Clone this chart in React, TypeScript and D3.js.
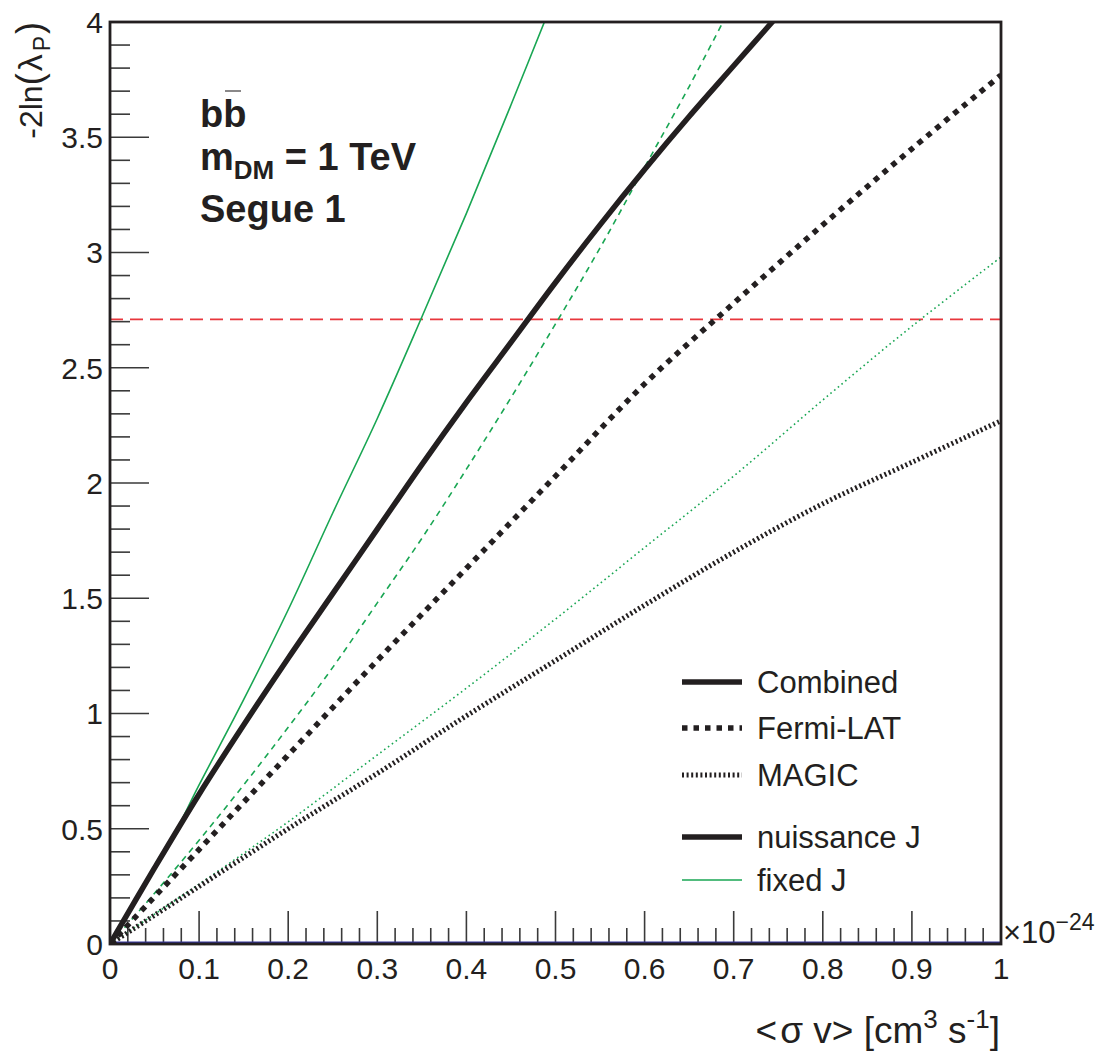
import React from "react";
import * as d3 from "d3";

const W = 1095;
const H = 1054;

// <σv> grid points (×1e-24 cm^3 s^-1)
const xCombNuis = [0, 0.05, 0.1, 0.15, 0.2, 0.25, 0.3, 0.35, 0.4, 0.45, 0.5, 0.55, 0.6, 0.65, 0.7, 0.75];
const yCombNuis = [0, 0.33, 0.65, 0.95, 1.24, 1.52, 1.8, 2.08, 2.35, 2.61, 2.87, 3.12, 3.36, 3.59, 3.81, 4.03];

const xCombFixed = [0, 0.05, 0.07, 0.1, 0.15, 0.2, 0.25, 0.3, 0.35, 0.4, 0.45, 0.5];
const yCombFixed = [0, 0.33, 0.46, 0.69, 1.06, 1.45, 1.87, 2.28, 2.72, 3.17, 3.64, 4.12];

const xFermiNuis = [0, 0.1, 0.2, 0.3, 0.4, 0.5, 0.6, 0.7, 0.8, 0.9, 1.0];
const yFermiNuis = [0, 0.41, 0.82, 1.23, 1.63, 2.03, 2.43, 2.78, 3.12, 3.45, 3.77];

const xFermiFixed = [0, 0.05, 0.1, 0.15, 0.2, 0.25, 0.3, 0.35, 0.4, 0.45, 0.5, 0.55, 0.6, 0.65, 0.7];
const yFermiFixed = [0, 0.22, 0.45, 0.69, 0.94, 1.2, 1.48, 1.76, 2.06, 2.37, 2.69, 3.02, 3.37, 3.72, 4.09];

const xMagicNuis = [0, 0.1, 0.2, 0.3, 0.4, 0.5, 0.6, 0.7, 0.8, 0.9, 1.0];
const yMagicNuis = [0, 0.25, 0.5, 0.74, 0.99, 1.23, 1.47, 1.7, 1.91, 2.09, 2.27];

const xMagicFixed = [0, 0.1, 0.2, 0.3, 0.4, 0.5, 0.6, 0.7, 0.8, 0.9, 1.0];
const yMagicFixed = [0, 0.26, 0.53, 0.82, 1.11, 1.41, 1.72, 2.03, 2.36, 2.68, 2.98];

const xBlue = [0, 1];
const yBlue = [0, 0];

const threshold = 2.71;

const xMajorTicks = [0, 0.1, 0.2, 0.3, 0.4, 0.5, 0.6, 0.7, 0.8, 0.9, 1];
const xTickLabels = ["0", "0.1", "0.2", "0.3", "0.4", "0.5", "0.6", "0.7", "0.8", "0.9", "1"];
const yMajorTicks = [0, 0.5, 1, 1.5, 2, 2.5, 3, 3.5, 4];
const yTickLabels = ["0", "0.5", "1", "1.5", "2", "2.5", "3", "3.5", "4"];

const legendLabels = ["Combined", "Fermi-LAT", "MAGIC", "nuissance J", "fixed J"];

const GREEN = "#19a653";
const BLACK = "#231f20";

const FONT = "'Liberation Sans', Arial, Helvetica, sans-serif";

export default function App() {
  const left = 110, right = 1001, top = 22, bottom = 944;
  const x = d3.scaleLinear().domain([0, 1]).range([left, right]);
  const y = d3.scaleLinear().domain([0, 4]).range([bottom, top]);

  const line = d3
    .line<[number, number]>()
    .x((d) => x(d[0]))
    .y((d) => y(d[1]))
    .curve(d3.curveCatmullRom.alpha(0.5));

  const zip = (xs: number[], ys: number[]) => xs.map((v, i) => [v, ys[i]] as [number, number]);

  const xMinor = d3.range(0, 1.0001, 0.02).filter((v) => Math.abs(Math.round(v * 10) - v * 10) > 1e-6);
  const yMinor = d3.range(0, 4.0001, 0.1).filter((v) => Math.abs(Math.round(v * 2) - v * 2) > 1e-6);

  const series = [
    { d: zip(xMagicFixed, yMagicFixed), stroke: GREEN, w: 1.6, dash: "1.6 3.2" },
    { d: zip(xFermiFixed, yFermiFixed), stroke: GREEN, w: 1.6, dash: "6 5" },
    { d: zip(xCombFixed, yCombFixed), stroke: GREEN, w: 1.6, dash: null },
    { d: zip(xMagicNuis, yMagicNuis), stroke: BLACK, w: 5, dash: "2 2.6" },
    { d: zip(xFermiNuis, yFermiNuis), stroke: BLACK, w: 5.5, dash: "5.5 6" },
    { d: zip(xCombNuis, yCombNuis), stroke: BLACK, w: 5.5, dash: null },
  ];

  const legendRows = [
    { label: legendLabels[0], yy: 682, stroke: BLACK, w: 5.5, dash: null },
    { label: legendLabels[1], yy: 728, stroke: BLACK, w: 5.5, dash: "5.5 6" },
    { label: legendLabels[2], yy: 775, stroke: BLACK, w: 5, dash: "2 2.6" },
    { label: legendLabels[3], yy: 837, stroke: BLACK, w: 5.5, dash: null },
    { label: legendLabels[4], yy: 880, stroke: GREEN, w: 1.6, dash: null },
  ];

  return (
    <svg
      width={W}
      height={H}
      style={{ position: "absolute", left: 0, top: 0, background: "#fff" }}
      fontFamily={FONT}
    >
      <defs>
        <clipPath id="plotclip">
          <rect x={left} y={top} width={right - left} height={bottom - top} />
        </clipPath>
      </defs>

      {/* ticks */}
      <g stroke="#3a3a3a" strokeWidth={1.6}>
        {yMajorTicks.map((t) => (
          <line key={"ym" + t} x1={left} x2={left + 39} y1={y(t)} y2={y(t)} />
        ))}
        {yMinor.map((t) => (
          <line key={"yn" + t} x1={left} x2={left + 20} y1={y(t)} y2={y(t)} />
        ))}
        {xMajorTicks.map((t) => (
          <line key={"xm" + t} x1={x(t)} x2={x(t)} y1={bottom} y2={bottom - 33} />
        ))}
        {xMinor.map((t) => (
          <line key={"xn" + t} x1={x(t)} x2={x(t)} y1={bottom} y2={bottom - 16} />
        ))}
      </g>

      {/* data */}
      <g clipPath="url(#plotclip)" fill="none">
        <path
          d={line(zip(xBlue, yBlue)) || ""}
          transform="translate(0,-1.8)"
          stroke="#34349a"
          strokeWidth={1.5}
        />
        <line
          x1={x(0)}
          x2={x(1)}
          y1={y(threshold)}
          y2={y(threshold)}
          stroke="#e8363c"
          strokeWidth={1.8}
          strokeDasharray="13 7"
        />
        {series.map((s, i) => (
          <path
            key={i}
            d={line(s.d) || ""}
            stroke={s.stroke}
            strokeWidth={s.w}
            strokeDasharray={s.dash || undefined}
          />
        ))}
      </g>

      {/* frame */}
      <rect
        x={left}
        y={top}
        width={right - left}
        height={bottom - top}
        fill="none"
        stroke={BLACK}
        strokeWidth={2.8}
      />

      {/* tick labels */}
      <g fontSize={30} fill={BLACK}>
        {yMajorTicks.map((t, i) => (
          <text key={"yl" + t} x={103} y={y(t)} dy="0.36em" textAnchor="end">
            {yTickLabels[i]}
          </text>
        ))}
        {xMajorTicks.map((t, i) => (
          <text key={"xl" + t} x={x(t)} y={979} textAnchor="middle">
            {xTickLabels[i]}
          </text>
        ))}
        <text x={1003} y={943} fontSize={31}>
          ×10
          <tspan fontSize={23} dy={-13}>
            −24
          </tspan>
        </text>
      </g>

      {/* axis titles */}
      <text x={1000} y={1043} fontSize={37} textAnchor="end" fill={BLACK}>
        {"<"}
        <tspan dx={3}>σ</tspan>
        <tspan>{" v> [cm"}</tspan>
        <tspan fontSize={26} dy={-15}>3</tspan>
        <tspan dy={15}>{" s"}</tspan>
        <tspan fontSize={26} dy={-15}>-1</tspan>
        <tspan dy={15}>]</tspan>
      </text>
      <text
        transform="translate(42,22) rotate(-90)"
        fontSize={32}
        textAnchor="end"
        fill={BLACK}
      >
        -2ln
        <tspan fontSize={36}>(</tspan>
        <tspan fontSize={34} dx={2}>λ</tspan>
        <tspan fontSize={23} dx={3} dy={8}>P</tspan>
        <tspan fontSize={36} dx={2} dy={-8}>)</tspan>
      </text>

      {/* annotation */}
      <g fontSize={38} fontWeight="bold" fill={BLACK}>
        <text x={200} y={127}>bb</text>
        <line x1={225} x2={241} y1={91} y2={91} stroke={BLACK} strokeWidth={1.5} opacity={0.7} />
        <text x={200} y={170}>
          m
          <tspan fontSize={26} dy={9}>DM</tspan>
          <tspan dy={-9}> = 1 TeV</tspan>
        </text>
        <text x={200} y={222}>Segue 1</text>
      </g>

      {/* legend */}
      <g>
        {legendRows.map((r) => (
          <g key={r.label}>
            <line
              x1={682}
              x2={742}
              y1={r.yy}
              y2={r.yy}
              stroke={r.stroke}
              strokeWidth={r.w}
              strokeDasharray={r.dash || undefined}
            />
            <text x={757} y={r.yy} dy="0.36em" fontSize={31} fill={BLACK}>
              {r.label}
            </text>
          </g>
        ))}
      </g>
    </svg>
  );
}
